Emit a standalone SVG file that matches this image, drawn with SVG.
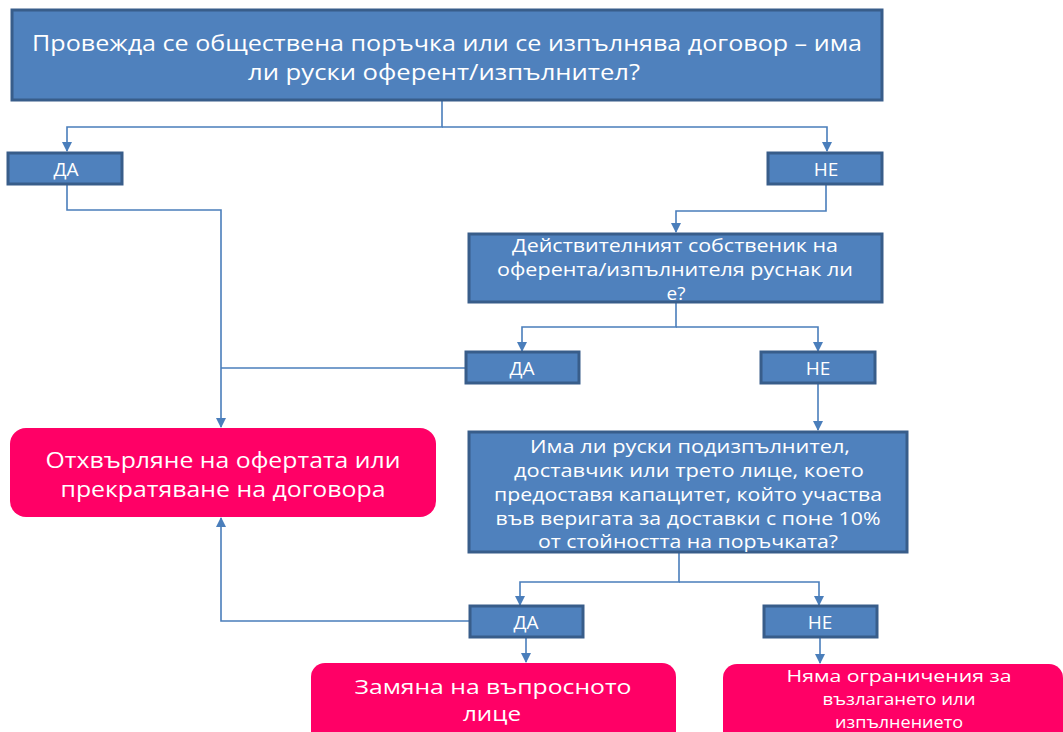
<svg xmlns="http://www.w3.org/2000/svg" width="1063" height="732" viewBox="0 0 1063 732">
<style>
.q{fill:#4f81bd;stroke:#385d8a;stroke-width:3}
.r{fill:#ff0066;stroke:none}
.t{font-family:"Open Sans","Noto Sans","DejaVu Sans",sans-serif;fill:#ffffff;text-anchor:middle}
.c{fill:none;stroke:#4a7ebb;stroke-width:1.6}
</style>
<defs>
<marker id="a" viewBox="0 0 10 10" refX="9" refY="5" markerWidth="10" markerHeight="10" markerUnits="userSpaceOnUse" orient="auto">
<path d="M0,0 L10,5 L0,10 z" fill="#4a7ebb"/>
</marker>
</defs>
<rect width="1063" height="732" fill="#ffffff"/>
<g id="connectors">
<path class="c" d="M442,100 V127 H67 V151" marker-end="url(#a)"/>
<path class="c" d="M442,127 H827 V151" marker-end="url(#a)"/>
<path class="c" d="M67,185 V210 H221 V427" marker-end="url(#a)"/>
<path class="c" d="M826,185 V211 H676 V232" marker-end="url(#a)"/>
<path class="c" d="M676,303 V327 H522 V351" marker-end="url(#a)"/>
<path class="c" d="M676,327 H818 V351" marker-end="url(#a)"/>
<path class="c" d="M465,368 H221"/>
<path class="c" d="M818,384 V430" marker-end="url(#a)"/>
<path class="c" d="M679,553 V582 H520 V605" marker-end="url(#a)"/>
<path class="c" d="M679,582 H819 V605" marker-end="url(#a)"/>
<path class="c" d="M469,621 H221 V518" marker-end="url(#a)"/>
<path class="c" d="M526,638 V662" marker-end="url(#a)"/>
<path class="c" d="M820,638 V663" marker-end="url(#a)"/>
</g>
<g id="q1">
<rect class="q" x="12" y="10" width="870" height="90"/>
<text class="t" font-size="21" x="447" y="51" textLength="830" lengthAdjust="spacingAndGlyphs">Провежда се обществена поръчка или се изпълнява договор – има</text>
<text class="t" font-size="21" x="444" y="80" textLength="392" lengthAdjust="spacingAndGlyphs">ли руски оферент/изпълнител?</text>
</g>
<g id="yes1">
<rect class="q" x="8" y="153" width="114" height="31"/>
<text class="t" font-size="19" x="66" y="176">ДА</text>
</g>
<g id="no1">
<rect class="q" x="768" y="153" width="114" height="31"/>
<text class="t" font-size="19" x="826" y="176">НЕ</text>
</g>
<g id="q2">
<rect class="q" x="469" y="234" width="413" height="68"/>
<text class="t" font-size="19" x="675" y="252" textLength="326" lengthAdjust="spacingAndGlyphs">Действителният собственик на</text>
<text class="t" font-size="19" x="675" y="276" textLength="356" lengthAdjust="spacingAndGlyphs">оферента/изпълнителя руснак ли</text>
<text class="t" font-size="19" x="676" y="300">е?</text>
</g>
<g id="yes2">
<rect class="q" x="466" y="352" width="113" height="31"/>
<text class="t" font-size="19" x="522" y="375">ДА</text>
</g>
<g id="no2">
<rect class="q" x="761" y="352" width="114" height="31"/>
<text class="t" font-size="19" x="818" y="375">НЕ</text>
</g>
<g id="reject">
<rect class="r" x="10" y="428" width="426" height="89" rx="16"/>
<text class="t" font-size="21" x="223" y="468" textLength="355" lengthAdjust="spacingAndGlyphs">Отхвърляне на офертата или</text>
<text class="t" font-size="21" x="223" y="497" textLength="325" lengthAdjust="spacingAndGlyphs">прекратяване на договора</text>
</g>
<g id="q3">
<rect class="q" x="469" y="432" width="438" height="120"/>
<text class="t" font-size="18" x="690" y="453" textLength="320" lengthAdjust="spacingAndGlyphs">Има ли руски подизпълнител,</text>
<text class="t" font-size="18" x="689" y="477" textLength="350" lengthAdjust="spacingAndGlyphs">доставчик или трето лице, което</text>
<text class="t" font-size="18" x="688" y="501" textLength="388" lengthAdjust="spacingAndGlyphs">предоставя капацитет, който участва</text>
<text class="t" font-size="18" x="688" y="525" textLength="385" lengthAdjust="spacingAndGlyphs">във веригата за доставки с поне 10%</text>
<text class="t" font-size="18" x="688" y="548" textLength="300" lengthAdjust="spacingAndGlyphs">от стойността на поръчката?</text>
</g>
<g id="yes3">
<rect class="q" x="470" y="606" width="113" height="31"/>
<text class="t" font-size="19" x="526" y="629">ДА</text>
</g>
<g id="no3">
<rect class="q" x="764" y="606" width="113" height="31"/>
<text class="t" font-size="19" x="820" y="629">НЕ</text>
</g>
<g id="replace">
<rect class="r" x="311" y="663" width="365" height="90" rx="14"/>
<text class="t" font-size="20" x="493" y="694" textLength="277" lengthAdjust="spacingAndGlyphs">Замяна на въпросното</text>
<text class="t" font-size="20" x="492" y="721" textLength="58" lengthAdjust="spacingAndGlyphs">лице</text>
</g>
<g id="norestrict">
<rect class="r" x="723" y="664" width="340" height="90" rx="14"/>
<text class="t" font-size="17" x="899" y="682" textLength="225" lengthAdjust="spacingAndGlyphs">Няма ограничения за</text>
<text class="t" font-size="17" x="899" y="705" textLength="153" lengthAdjust="spacingAndGlyphs">възлагането или</text>
<text class="t" font-size="17" x="899" y="728" textLength="128" lengthAdjust="spacingAndGlyphs">изпълнението</text>
</g>
</svg>
